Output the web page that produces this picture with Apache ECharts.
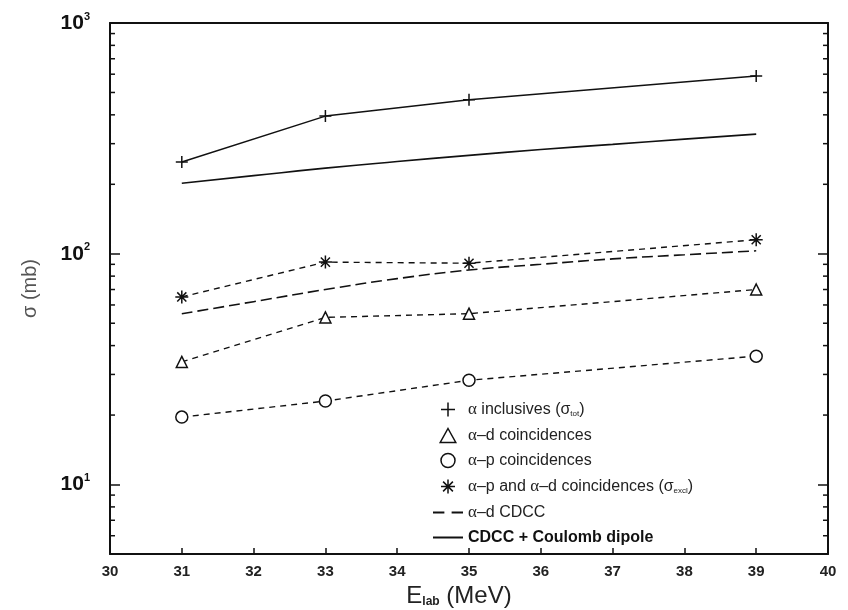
<!DOCTYPE html>
<html>
<head>
<meta charset="utf-8">
<script src="https://cdn.jsdelivr.net/npm/echarts@6/dist/echarts.min.js"></script>
<style>
  html, body { margin: 0; padding: 0; background: #fff; }
  #chart { width: 848px; height: 610px; }
</style>
</head>
<body>
<div id="chart"></div>
<script>
// measured energies (MeV)
const energies = [31, 33, 35, 39]
const inclusives = [250, 395, 465, 590]
const adCoinc = [34, 53, 55, 70]
const apCoinc = [19.6, 23, 28.3, 36]
const apadCoinc = [65, 92, 91, 115]

// calculations
const calcEnergies = [31, 32, 33, 34, 35, 36, 37, 38, 39]
const adCdcc = [55, 62, 70, 78, 85, 90, 95, 99, 103]
const cdccDipole = [202, 218, 235, 251, 267, 283, 298, 314, 330]

// log-axis minor tick positions
const minorTicks = [6, 7, 8, 9, 20, 30, 40, 50, 60, 70, 80, 90, 200, 300, 400, 500, 600, 700, 800, 900]

const ink = '#111'
const font = 'Liberation Sans'
const plusPath = 'path://M5,0L5,10M0,5L10,5'
const starPath = 'path://M5,0L5,10M0,5L10,5M1.5,1.5L8.5,8.5M8.5,1.5L1.5,8.5'
const triPath = 'path://M5,0L10,9L0,9Z'
const dashIcon = 'path://M0,0h11v2h-11zM18,0h11v2h-11z'
const solidIcon = 'path://M0,0h30v2h-30z'

const legendText = {
  'inclusives': '{g|α} inclusives (σ{sub|tot})',
  'ad': '{g|α}–d coincidences',
  'ap': '{g|α}–p coincidences',
  'apad': '{g|α}–p and {g|α}–d coincidences (σ{sub|excl})',
  'adcdcc': '{g|α}–d CDCC',
  'dipole': '{bold|CDCC + Coulomb dipole}'
}

const pairs = (xs, ys) => xs.map((x, i) => [x, ys[i]])

const chart = echarts.init(document.getElementById('chart'))

function minorTick(params, api) {
  const v = api.value(1)
  const l = api.coord([30, v])
  const r = api.coord([40, v])
  const st = { stroke: ink, lineWidth: 1.5 }
  return {
    type: 'group',
    children: [
      { type: 'line', shape: { x1: l[0], y1: l[1], x2: l[0] + 5, y2: l[1] }, style: st },
      { type: 'line', shape: { x1: r[0], y1: r[1], x2: r[0] - 5, y2: r[1] }, style: st }
    ]
  }
}

const hollow = { color: '#fff', borderColor: ink, borderWidth: 1.5 }
const stroked = { color: 'none', borderColor: ink, borderWidth: 1.5 }
const filled = { color: ink, borderWidth: 0 }

chart.setOption({
  animation: false,
  grid: { left: 110, right: 20, top: 23, bottom: 56, containLabel: false, outerBoundsMode: 'none' },
  legend: {
    orient: 'vertical',
    left: 428,
    top: 395,
    itemWidth: 30,
    itemHeight: 14,
    itemGap: 8,
    selectedMode: false,
    data: [
      { name: 'inclusives', icon: plusPath, itemStyle: stroked },
      { name: 'ad', icon: triPath, itemStyle: hollow },
      { name: 'ap', icon: 'circle', itemStyle: hollow },
      { name: 'apad', icon: starPath, itemStyle: stroked },
      { name: 'adcdcc', icon: dashIcon, itemStyle: filled },
      { name: 'dipole', icon: solidIcon, itemStyle: filled }
    ],
    formatter: name => legendText[name],
    textStyle: {
      fontFamily: font,
      fontSize: 16,
      color: '#222',
      lineHeight: 17,
      rich: {
        g: { fontFamily: 'Liberation Serif', fontSize: 17, color: '#222' },
        sub: { fontSize: 8, verticalAlign: 'bottom', lineHeight: 12, color: '#222' },
        bold: { fontFamily: font, fontSize: 16, fontWeight: 'bold', color: '#111' }
      }
    }
  },
  xAxis: [{
    type: 'value',
    min: 30,
    max: 40,
    interval: 1,
    name: '{e|E}{s|lab}{m| (MeV)}',
    nameLocation: 'middle',
    nameGap: 29,
    nameTextStyle: {
      padding: [0, 20, 0, 0],
      rich: {
        e: { fontFamily: font, fontSize: 24, color: '#222' },
        s: { fontFamily: font, fontSize: 12, fontWeight: 'bold', color: '#222', verticalAlign: 'bottom', lineHeight: 18 },
        m: { fontFamily: font, fontSize: 24, color: '#222' }
      }
    },
    axisLine: { lineStyle: { color: ink, width: 2 } },
    axisTick: { inside: true, length: 6, lineStyle: { color: ink, width: 1.5 } },
    axisLabel: { fontFamily: font, fontWeight: 'bold', fontSize: 15, color: '#222', margin: 10 },
    splitLine: { show: false }
  }, {
    type: 'value',
    position: 'top',
    min: 30,
    max: 40,
    interval: 1,
    axisLine: { lineStyle: { color: ink, width: 2 } },
    axisTick: { show: false },
    axisLabel: { show: false },
    splitLine: { show: false }
  }],
  yAxis: [{
    type: 'log',
    logBase: 10,
    min: 5,
    max: 1000,
    name: 'σ (mb)',
    nameLocation: 'middle',
    nameGap: 70,
    nameTextStyle: { fontFamily: font, fontSize: 20, color: '#555' },
    axisLine: { show: true, lineStyle: { color: ink, width: 2 } },
    axisTick: { inside: true, length: 10, lineStyle: { color: ink, width: 1.5 } },
    axisLabel: {
      margin: 20,
      showMinLabel: false,
      formatter: v => {
        const e = Math.round(Math.log10(v))
        if (Math.abs(Math.log10(v) - e) > 1e-6) return ''
        return '{b|10}{sup|' + e + '}'
      },
      rich: {
        b: { fontFamily: font, fontWeight: 'bold', fontSize: 21, color: '#111' },
        sup: { fontFamily: font, fontWeight: 'bold', fontSize: 11, color: '#111', verticalAlign: 'top', lineHeight: 24 }
      }
    },
    splitLine: { show: false }
  }, {
    type: 'log',
    logBase: 10,
    min: 5,
    max: 1000,
    position: 'right',
    axisLine: { show: true, lineStyle: { color: ink, width: 2 } },
    axisTick: { inside: true, length: 10, lineStyle: { color: ink, width: 1.5 } },
    axisLabel: { show: false },
    splitLine: { show: false }
  }],
  series: [
    {
      name: 'inclusives',
      type: 'line',
      data: pairs(energies, inclusives),
      symbol: plusPath,
      symbolSize: 12,
      itemStyle: stroked,
      lineStyle: { color: ink, width: 1.5 },
      z: 3
    },
    {
      name: 'ad',
      type: 'line',
      data: pairs(energies, adCoinc),
      symbol: triPath,
      symbolSize: 11,
      itemStyle: hollow,
      lineStyle: { color: ink, width: 1.4, type: [6, 5] },
      z: 3
    },
    {
      name: 'ap',
      type: 'line',
      data: pairs(energies, apCoinc),
      symbol: 'circle',
      symbolSize: 12,
      itemStyle: hollow,
      lineStyle: { color: ink, width: 1.4, type: [6, 5] },
      z: 3
    },
    {
      name: 'apad',
      type: 'line',
      data: pairs(energies, apadCoinc),
      symbol: starPath,
      symbolSize: 13,
      itemStyle: stroked,
      lineStyle: { color: ink, width: 1.4, type: [6, 5] },
      z: 3
    },
    {
      name: 'adcdcc',
      type: 'line',
      data: pairs(calcEnergies, adCdcc),
      smooth: true,
      showSymbol: false,
      symbol: 'none',
      itemStyle: { color: ink },
      lineStyle: { color: ink, width: 1.6, type: [11, 5] }
    },
    {
      name: 'dipole',
      type: 'line',
      data: pairs(calcEnergies, cdccDipole),
      smooth: true,
      showSymbol: false,
      symbol: 'none',
      itemStyle: { color: ink },
      lineStyle: { color: ink, width: 1.6 }
    },
    {
      name: 'minor',
      type: 'custom',
      silent: true,
      data: minorTicks.map(v => [30, v]),
      encode: { x: 0, y: 1 },
      renderItem: minorTick
    }
  ]
})
</script>
</body>
</html>
